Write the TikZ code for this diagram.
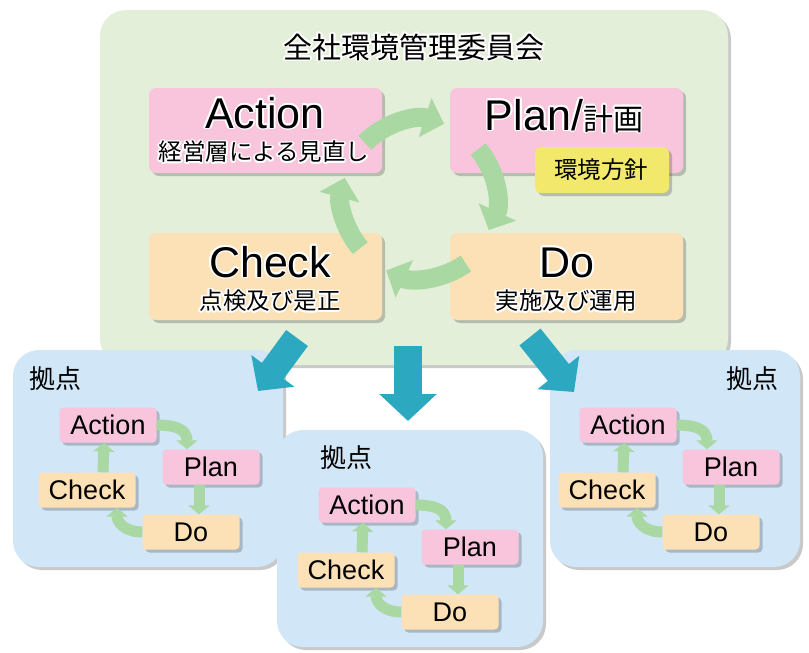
\documentclass[tikz,border=0pt]{standalone}
\usepackage{fontspec}
\setmainfont{Liberation Sans}
\newfontfamily\jp{Noto Sans CJK JP}
\usetikzlibrary{arrows.meta,shadows,calc}
\definecolor{bggreen}{HTML}{E3EFD9}
\definecolor{pinkc}{HTML}{F8C5DC}
\definecolor{peachc}{HTML}{FDE1B6}
\definecolor{yellowc}{HTML}{F1E86C}
\definecolor{bluec}{HTML}{D1E6F7}
\definecolor{cycg}{HTML}{A9D8A2}
\definecolor{tealc}{HTML}{2CA8C1}
\newcommand\halonode[4]{%
  \foreach \hang in {0,30,...,330}{\node[#3,text=white,shift={(\hang:1.8pt)}] (#1h\hang) at (#2) {#4};}
  \node[#3] (#1) at (#2) {#4};}
\newcommand\pdcaset[1]{%
  \node[sbox,fill=pinkc] (#1A) at (108,425) {Action};
  \node[sbox,fill=pinkc] (#1P) at (211,467) {Plan};
  \node[sbox,fill=peachc] (#1C) at (87,490) {Check};
  \node[sbox,fill=peachc] (#1D) at (191,532) {Do};
  \draw[scyc] (#1A.east) .. controls +(26,0) and +(0,-16) .. ([xshift=-24pt]#1P.north);
  \draw[scyc] ([xshift=-12pt]#1P.south) -- ([xshift=8pt]#1D.north);
  \draw[scyc] (#1D.west) .. controls +(-18,0) and +(0,14) .. ([xshift=30pt]#1C.south);
  \draw[scyc] ([xshift=16pt]#1C.north) -- ([xshift=-4pt]#1A.south);}
\begin{document}
\begin{tikzpicture}[x=1pt,y=-1pt,
  shad/.style={drop shadow={shadow xshift=3pt,shadow yshift=-3pt,opacity=0.3,fill=black!70}},
  panel/.style={shad,rounded corners=26pt,inner sep=0pt},
  mbox/.style={shad,rounded corners=7pt,inner sep=0pt,minimum width=233pt},
  sbox/.style={shad,rounded corners=4pt,inner sep=0pt,minimum width=97pt,minimum height=35pt,font=\fontsize{27}{27}\selectfont},
  cyc/.style={draw=cycg,line width=19pt,-{Triangle[length=20pt,width=40pt]}},
  scyc/.style={draw=cycg,line width=11pt,-{Triangle[length=9pt,width=21pt]}},
  tealarrow/.style={draw=tealc,line width=28pt,-{Triangle[length=27pt,width=56pt]}},
  big/.style={anchor=base,font=\fontsize{43}{43}\selectfont},
  sub/.style={font=\jp\fontsize{23.5}{24}\selectfont},
  site/.style={font=\jp\fontsize{26}{26}\selectfont}]
\useasboundingbox (0,0) rectangle (809,653);
% main committee box
\node[panel,fill=bggreen,minimum width=628pt,minimum height=355pt] (main) at (414,187.5) {};
\node[mbox,fill=pinkc,minimum height=85pt] (act) at (265.5,130.5) {};
\node[mbox,fill=pinkc,minimum height=85pt] (plan) at (566.5,130.5) {};
\node[mbox,fill=peachc,minimum height=87pt] (chk) at (265.5,276.5) {};
\node[mbox,fill=peachc,minimum height=87pt] (do) at (566.5,276.5) {};
\node[shad,rounded corners=6pt,fill=yellowc,minimum width=134pt,minimum height=46pt,inner sep=0pt] (pol) at (602,170) {};
% cycle arrows
\coordinate (cc) at (420,198);
\draw[cyc] ($(cc)+(-135:78)$) arc[start angle=-135,end angle=-72,radius=78];
\draw[cyc] ($(cc)+(-40:76)$) arc[start angle=-40,end angle=25,radius=76];
\draw[cyc] ($(cc)+(55:80)$) arc[start angle=55,end angle=115,radius=80];
\draw[cyc] ($(cc)+(140:78)$) arc[start angle=140,end angle=195,radius=78];
% texts (with white halo)
\halonode{title}{414,47}{font=\jp\fontsize{29}{29}\selectfont}{全社環境管理委員会}
\halonode{actT}{265,128}{big}{Action}
\halonode{actJ}{264,152}{sub}{経営層による見直し}
\halonode{planT}{564,130}{big}{Plan/{\jp\fontsize{30}{30}\selectfont 計画}}
\node[sub] (polT) at (601,170) {環境方針};
\halonode{chkT}{270,277}{big}{Check}
\halonode{chkJ}{270,301}{sub}{点検及び是正}
\halonode{doT}{567,277}{big}{Do}
\halonode{doJ}{566,301}{sub}{実施及び運用}
% site panels
\node[panel,fill=bluec,minimum width=270pt,minimum height=217pt] (left) at (148,458.5) {};
\node[site] (leftT) at (56,379) {拠点};
\pdcaset{L}
\node[panel,fill=bluec,minimum width=250pt,minimum height=217pt] (right) at (675,458.5) {};
\node[site] (rightT) at (752,379) {拠点};
\begin{scope}[shift={(520,0)}]
\pdcaset{R}
\end{scope}
\node[panel,fill=bluec,minimum width=266pt,minimum height=217pt] (mid) at (410,538.5) {};
\node[site] (midT) at (346,458) {拠点};
\begin{scope}[shift={(259,80)}]
\pdcaset{M}
\end{scope}
% deployment arrows
\coordinate (t1s) at (297,338); \coordinate (t1e) at (258,391);
\coordinate (t2s) at (408,346); \coordinate (t2e) at (408,421);
\coordinate (t3s) at (530,337); \coordinate (t3e) at (574,392);
\draw[tealarrow,line width=27pt,-{Triangle[length=25pt,width=52pt]}] (t1s) -- (t1e);
\draw[tealarrow] (t2s) -- (t2e);
\draw[tealarrow,line width=27pt,-{Triangle[length=25pt,width=52pt]}] (t3s) -- (t3e);
\end{tikzpicture}
\end{document}
